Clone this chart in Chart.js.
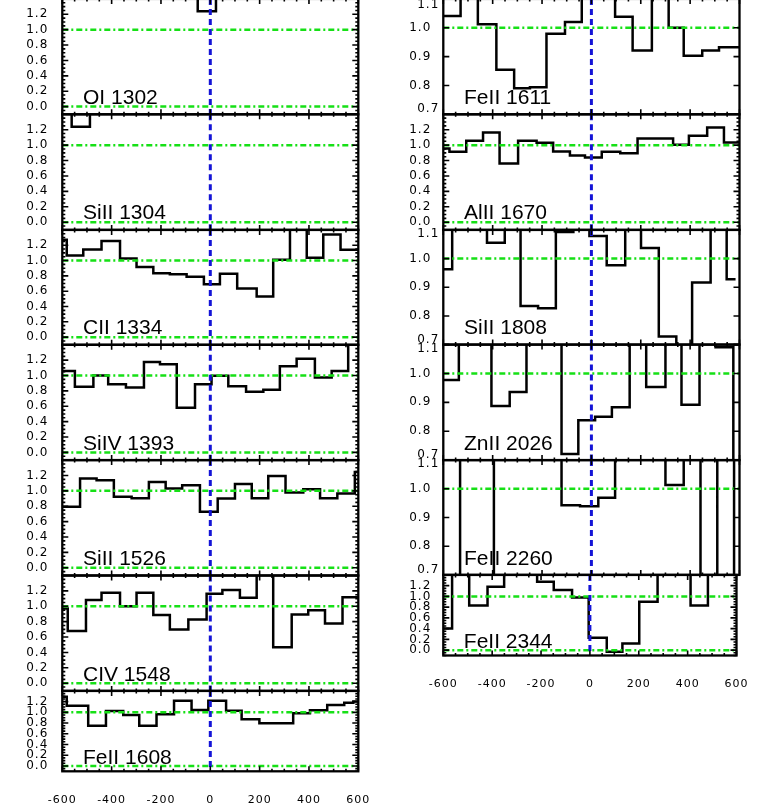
<!DOCTYPE html>
<html>
<head>
<meta charset="utf-8">
<script src="https://cdn.jsdelivr.net/npm/chart.js@4.4.1/dist/chart.umd.min.js"></script>
<style>
  html, body { margin: 0; padding: 0; background: #fff; }
  #stack { position: relative; width: 761px; height: 807px; overflow: hidden; background: #fff; }
  #stack canvas { position: absolute; left: 0; }
</style>
</head>
<body>
<div id="stack"></div>
<script>
// ---- data: velocity bin edges (km/s) and normalised flux per bin ----
const velocityTicks = [-600, -400, -200, 0, 200, 400, 600];
const fluxTicksWide = [0.0, 0.2, 0.4, 0.6, 0.8, 1.0, 1.2];
const fluxTicksNarrow = [0.7, 0.8, 0.9, 1.0, 1.1];

const oi1302Edges = [-600, -51, 23, 600];
const oi1302Flux = [1.6, 1.24, 1.6];

const siii1304Edges = [-600, -562, -488, 600];
const siii1304Flux = [1.6, 1.24, 1.6];

const cii1334Edges = [-600, -582, -515, -441, -366, -299, -231, -164, -96, -26, 39, 109, 188, 255, 323, 391, 458, 528, 600];
const cii1334Flux = [1.27, 1.066, 1.145, 1.254, 1.026, 0.917, 0.833, 0.82, 0.79, 0.689, 0.829, 0.636, 0.531, 1.009, 1.6, 1.035, 1.34, 1.14];

const siiv1393Edges = [-600, -549, -474, -414, -342, -269, -204, -136, -62, 5, 73, 145, 215, 282, 350, 424, 492, 559, 600];
const siiv1393Flux = [1.06, 0.853, 1.0, 0.888, 0.845, 1.177, 1.147, 0.582, 0.888, 0.996, 0.862, 0.789, 0.815, 1.12, 1.22, 0.974, 1.06, 1.6];

const siii1526Edges = [-600, -528, -461, -391, -319, -249, -181, -114, -42, 30, 100, 168, 235, 305, 377, 445, 515, 586, 600];
const siii1526Flux = [0.793, 1.16, 1.138, 0.922, 0.905, 1.116, 1.03, 1.073, 0.728, 0.90, 1.09, 0.905, 1.194, 0.978, 1.022, 0.905, 0.966, 1.246];

const civ1548Edges = [-600, -578, -504, -441, -366, -299, -231, -164, -89, -15, 49, 120, 188, 255, 330, 397, 465, 536, 600];
const civ1548Flux = [0.97, 0.677, 1.082, 1.177, 1.0, 1.177, 0.888, 0.698, 0.828, 1.164, 1.211, 1.112, 1.6, 0.466, 0.892, 0.948, 0.776, 1.116];

const feii1608Edges = [-600, -582, -495, -423, -353, -288, -218, -147, -76, -8, 64, 127, 199, 269, 336, 404, 474, 543, 580, 600];
const feii1608Flux = [1.29, 1.124, 0.752, 1.025, 0.95, 0.752, 0.963, 1.217, 1.043, 1.217, 1.031, 0.87, 0.795, 0.795, 0.981, 1.037, 1.137, 1.18, 1.2];

const feii1611Edges = [-600, -530, -460, -385, -313, -249, -182, -107, -39, 28, 96, 167, 245, 313, 374, 449, 517, 600];
const feii1611Flux = [1.041, 1.2, 1.012, 0.854, 0.79, 0.794, 0.979, 1.02, 1.2, 1.2, 1.038, 0.921, 1.2, 1.0, 0.903, 0.921, 0.932];

const alii1670Edges = [-600, -575, -507, -439, -372, -297, -222, -155, -87, -26, 42, 117, 187, 259, 331, 395, 469, 537, 600];
const alii1670Flux = [0.957, 0.913, 1.057, 1.165, 0.761, 1.057, 1.03, 0.917, 0.865, 0.839, 0.913, 0.896, 1.087, 1.087, 1.004, 1.122, 1.23, 1.035];

const siii1808Edges = [-600, -564, -494, -423, -351, -287, -216, -144, -73, -8, 62, 137, 201, 273, 344, 408, 483, 548, 584];
const siii1808Flux = [0.963, 1.2, 1.2, 1.055, 1.2, 0.835, 0.827, 1.093, 1.2, 1.079, 0.977, 1.2, 1.037, 0.728, 0.6, 0.917, 1.2, 0.928];

const znii2026Edges = [-600, -537, -470, -405, -331, -263, -193, -121, -53, 15, 83, 155, 222, 300, 365, 438, 503, 575, 600];
const znii2026Flux = [0.977, 1.2, 1.2, 0.887, 0.936, 1.2, 1.2, 0.721, 0.838, 0.85, 0.883, 1.2, 0.953, 1.2, 0.892, 1.2, 1.091, 0.6];

const feii2260Edges = [-600, -532, -464, -395, -326, -258, -190, -121, -46, 28, 96, 164, 232, 300, 374, 442, 510, 578, 600];
const feii2260Flux = [1.2, 0.6, 0.6, 1.2, 1.2, 1.2, 1.2, 0.943, 0.939, 0.969, 1.2, 1.2, 1.2, 1.013, 1.2, 0.6, 1.2, 0.6];

const feii2344Edges = [-600, -564, -494, -419, -351, -283, -216, -148, -73, -5, 69, 133, 202, 277, 344, 412, 483, 551, 600];
const feii2344Flux = [0.404, 1.6, 0.832, 1.18, 1.6, 1.6, 1.273, 1.118, 0.981, 0.23, -0.03, 0.124, 0.90, 1.6, 1.6, 0.832, 1.6, 1.6];

const leftPanels = [
  { label: 'OI 1302', edges: oi1302Edges, flux: oi1302Flux, kind: 'wide' },
  { label: 'SiII 1304', edges: siii1304Edges, flux: siii1304Flux, kind: 'wide' },
  { label: 'CII 1334', edges: cii1334Edges, flux: cii1334Flux, kind: 'wide' },
  { label: 'SiIV 1393', edges: siiv1393Edges, flux: siiv1393Flux, kind: 'wide' },
  { label: 'SiII 1526', edges: siii1526Edges, flux: siii1526Flux, kind: 'wide' },
  { label: 'CIV 1548', edges: civ1548Edges, flux: civ1548Flux, kind: 'wide' },
  { label: 'FeII 1608', edges: feii1608Edges, flux: feii1608Flux, kind: 'wide' }
];
const rightPanels = [
  { label: 'FeII 1611', edges: feii1611Edges, flux: feii1611Flux, kind: 'narrow' },
  { label: 'AlII 1670', edges: alii1670Edges, flux: alii1670Flux, kind: 'wide' },
  { label: 'SiII 1808', edges: siii1808Edges, flux: siii1808Flux, kind: 'narrow' },
  { label: 'ZnII 2026', edges: znii2026Edges, flux: znii2026Flux, kind: 'narrow' },
  { label: 'FeII 2260', edges: feii2260Edges, flux: feii2260Flux, kind: 'narrow' },
  { label: 'FeII 2344', edges: feii2344Edges, flux: feii2344Flux, kind: 'wide' }
];

// ---- layout (pixels) ----
const PAGE_W = 761;
const CANVAS_OFF = -20;      // canvases start above the page so the top panels can be cut
const CANVAS_H = 847;
const Y_AXIS_W = 50;
const X_AXIS_H = 36;
const TICK_FONT = '12px "DejaVu Sans"';

const columns = [
  { panels: leftPanels, left: 62.3, right: 358.3,
    tops: [-1.1, 114.3, 229.9, 344.8, 460.1, 575.5, 690.9], bottom: 771.3, labelPad: 6 },
  { panels: rightPanels, left: 443.3, right: 739.5,
    tops: [-1.1, 114.3, 229.9, 344.6, 460.1, 574.9], bottom: 655.5, labelPad: 4 }
];

// narrow panels: end labels are nudged inside the frame (as in the original plot)
const RANGES = {
  wide: { min: -0.1, max: 1.4, ticks: fluxTicksWide, refs: [0, 1], minorStep: 0.05, nudge: null },
  narrow: { min: 0.7, max: 1.1, ticks: fluxTicksNarrow, refs: [1], minorStep: null, nudge: { top: 4, bottom: -5 } }
};

function line(ctx, x0, y0, x1, y1) {
  ctx.beginPath();
  ctx.moveTo(x0, y0);
  ctx.lineTo(x1, y1);
  ctx.stroke();
}

const panelDecor = {
  id: 'panelDecor',
  beforeDraw(chart) {
    chart.ctx.letterSpacing = '1px';
  },
  afterDatasetsDraw(chart, args, opts) {
    const { ctx, chartArea: a, scales: { x, y } } = chart;
    const r = RANGES[opts.kind];
    ctx.save();

    // nudged end labels of the narrow panels
    if (r.nudge) {
      ctx.fillStyle = '#000';
      ctx.font = TICK_FONT;
      ctx.textAlign = 'right';
      ctx.textBaseline = 'middle';
      ctx.fillText(r.max.toFixed(1), a.left - opts.labelPad, y.getPixelForValue(r.max) + (opts.first ? 6 : r.nudge.top));
      ctx.fillText(r.min.toFixed(1), a.left - opts.labelPad, y.getPixelForValue(r.min) + r.nudge.bottom);
    }
    ctx.letterSpacing = '0px';

    // green continuum / zero lines
    ctx.strokeStyle = '#16e016';
    ctx.lineWidth = 2.5;
    ctx.setLineDash([6, 3, 2, 3]);
    r.refs.forEach(v => {
      const py = y.getPixelForValue(v);
      line(ctx, a.left, py, a.right, py);
    });

    // blue dashed zero velocity
    ctx.strokeStyle = '#1414d6';
    ctx.lineWidth = 3;
    ctx.setLineDash([6, 4]);
    const px0 = x.getPixelForValue(0);
    line(ctx, px0, a.top, px0, a.bottom);
    ctx.setLineDash([]);

    // frame
    ctx.strokeStyle = '#000';
    ctx.lineWidth = 2.3;
    ctx.strokeRect(a.left, a.top, a.width, a.height);

    // inward tick marks
    ctx.lineWidth = 1.6;
    ctx.beginPath();
    r.ticks.forEach(v => {
      const py = y.getPixelForValue(v);
      ctx.moveTo(a.left, py); ctx.lineTo(a.left + 6, py);
      ctx.moveTo(a.right, py); ctx.lineTo(a.right - 6, py);
    });
    if (r.minorStep) {
      for (let v = r.min; v <= r.max + 1e-6; v += r.minorStep) {
        const py = y.getPixelForValue(v);
        ctx.moveTo(a.left, py); ctx.lineTo(a.left + 3, py);
        ctx.moveTo(a.right, py); ctx.lineTo(a.right - 3, py);
      }
    }
    velocityTicks.forEach(v => {
      const px = x.getPixelForValue(v);
      ctx.moveTo(px, a.bottom); ctx.lineTo(px, a.bottom - 5);
      ctx.moveTo(px, a.top); ctx.lineTo(px, a.top + 5);
    });
    for (let v = -550; v < 600; v += 50) {
      const px = x.getPixelForValue(v);
      ctx.moveTo(px, a.bottom); ctx.lineTo(px, a.bottom - 2.5);
      ctx.moveTo(px, a.top); ctx.lineTo(px, a.top + 2.5);
    }
    ctx.stroke();

    // ion label
    ctx.fillStyle = '#000';
    ctx.font = '21px "Liberation Sans", Arial, sans-serif';
    ctx.textAlign = 'left';
    ctx.textBaseline = 'alphabetic';
    ctx.fillText(opts.label, a.left + 0.07 * a.width, a.bottom - 0.09 * a.height);
    ctx.restore();
  }
};

const stack = document.getElementById('stack');

columns.forEach(col => {
  col.panels.forEach((p, i) => {
    const top = col.tops[i];
    const bottom = i + 1 < col.tops.length ? col.tops[i + 1] : col.bottom;
    const isBottom = i === col.panels.length - 1;
    const r = RANGES[p.kind];

    const canvas = document.createElement('canvas');
    canvas.width = PAGE_W;
    canvas.height = CANVAS_H;
    canvas.style.top = CANVAS_OFF + 'px';
    stack.appendChild(canvas);

    const points = p.edges.map((e, k) => ({ x: e, y: p.flux[Math.min(k, p.flux.length - 1)] }));

    new Chart(canvas, {
      type: 'line',
      data: {
        datasets: [{
          data: points,
          stepped: 'before',
          borderColor: '#000',
          borderWidth: 2.5,
          pointRadius: 0,
          fill: false
        }]
      },
      options: {
        responsive: false,
        animation: false,
        devicePixelRatio: 1,
        layout: {
          padding: {
            left: col.left - Y_AXIS_W,
            right: PAGE_W - col.right,
            top: top - CANVAS_OFF,
            bottom: (CANVAS_OFF + CANVAS_H) - bottom - (isBottom ? X_AXIS_H : 0)
          }
        },
        plugins: {
          legend: { display: false },
          tooltip: { enabled: false },
          panelDecor: { kind: p.kind, label: p.label, labelPad: col.labelPad, first: i === 0 }
        },
        scales: {
          x: {
            type: 'linear',
            min: -600,
            max: 600,
            display: isBottom,
            position: 'bottom',
            grid: { display: false },
            border: { display: false },
            ticks: {
              color: '#000',
              font: { family: 'DejaVu Sans', size: 11 },
              padding: 14,
              maxRotation: 0,
              autoSkip: false,
              callback: v => String(v)
            },
            afterBuildTicks: s => { s.ticks = velocityTicks.map(v => ({ value: v })); },
            afterFit: s => { if (isBottom) s.height = X_AXIS_H; }
          },
          y: {
            type: 'linear',
            min: r.min,
            max: r.max,
            position: 'left',
            grid: { display: false },
            border: { display: false },
            ticks: {
              color: '#000',
              font: { family: 'DejaVu Sans', size: 12 },
              padding: col.labelPad,
              autoSkip: false,
              callback: v => (r.nudge && (v === r.min || v === r.max)) ? '' : Number(v).toFixed(1)
            },
            afterBuildTicks: s => { s.ticks = r.ticks.map(v => ({ value: v })); },
            afterFit: s => { s.width = Y_AXIS_W; }
          }
        }
      },
      plugins: [panelDecor]
    });
  });
});
</script>
</body>
</html>
